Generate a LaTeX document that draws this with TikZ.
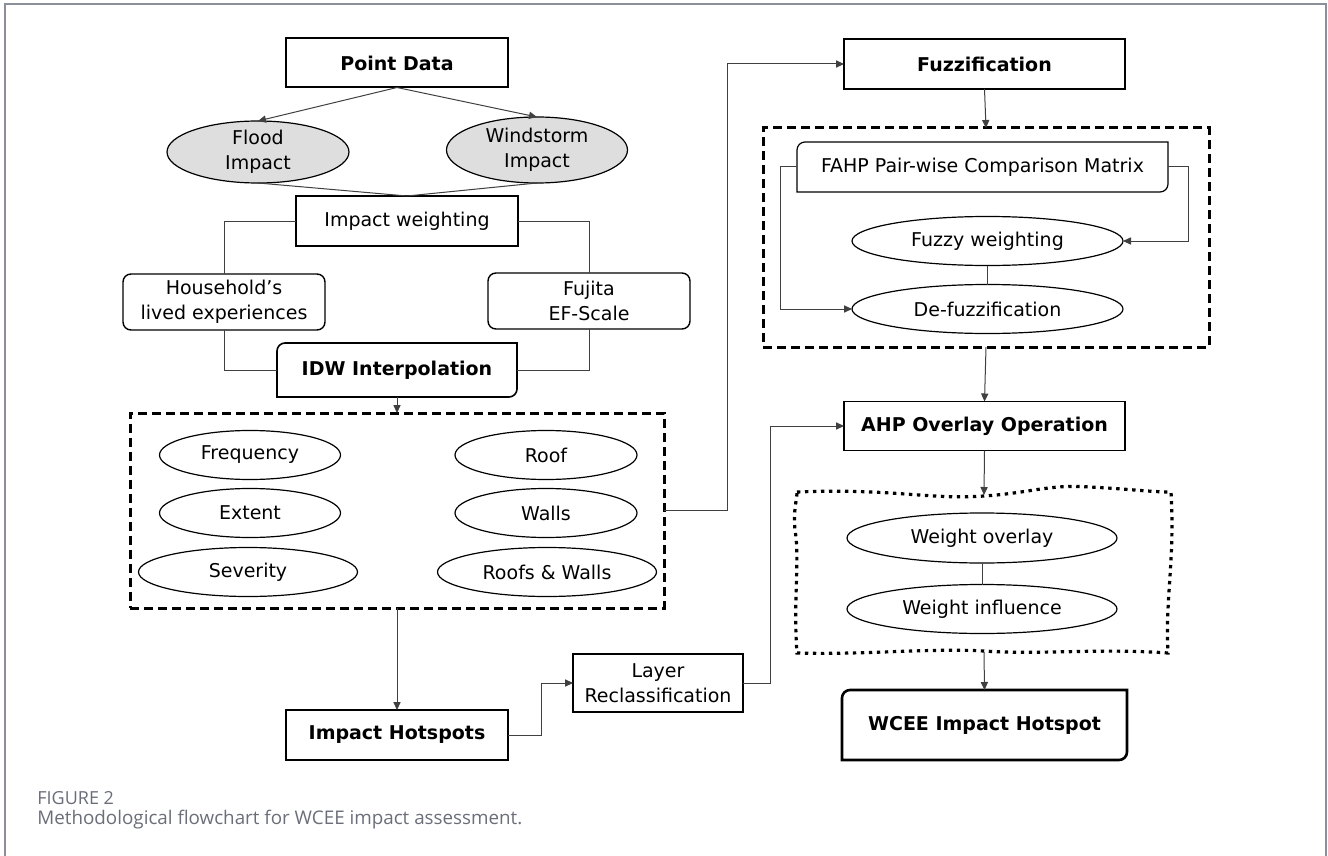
\documentclass[tikz,border=0pt]{standalone}
\usepackage{fontspec}
\setmainfont{DejaVu Sans}
\newfontfamily\capfont{Open Sans}
\usetikzlibrary{arrows.meta,shapes.geometric}
\definecolor{linegray}{rgb}{0.25,0.25,0.25}
\definecolor{framegray}{rgb}{0.55,0.56,0.60}
\definecolor{capgray}{rgb}{0.42,0.43,0.47}
\definecolor{ovalfill}{rgb}{0.87,0.87,0.87}
\newcommand{\diagoutline}[2][0.6pt]{%
  \draw[line width=#1] (#2.north east) -- ([xshift=4pt]#2.north west)
    arc[start angle=90,end angle=180,radius=4pt] -- (#2.south west)
    -- ([xshift=-4pt]#2.south east) arc[start angle=270,end angle=360,radius=4pt] -- cycle;}
\tikzset{
  txt/.style={font=\fontsize{9.5}{12.5}\selectfont},
  bold/.style={font=\fontsize{9.5}{12.5}\selectfont\bfseries},
  box/.style={txt,rectangle,draw,line width=0.7pt,inner sep=0pt,outer sep=0pt,align=center},
  roundbox/.style={box,rounded corners=4pt},
  diagbox/.style={txt,rectangle,inner sep=0pt,outer sep=0pt,align=center},
  oval/.style={txt,ellipse,draw,line width=0.6pt,inner sep=0pt,outer sep=0pt,align=center,minimum height=24.5pt},
  group/.style={rectangle,draw,line width=1.5pt,dash pattern=on 4.5pt off 2.5pt,inner sep=0pt,outer sep=0pt},
  link/.style={draw=linegray,line width=0.5pt},
  flow/.style={link,-{Triangle[length=4pt,width=3.6pt]}}
}

\begin{document}
\begin{tikzpicture}[x=0.5pt,y=-0.5pt]
\useasboundingbox (0,0) rectangle (1328,856);
\draw[framegray,line width=1pt] (4.5,856) -- (4.5,4.5) -- (1326,4.5) -- (1326,856);

\node[box,bold,line width=1pt,minimum width=111pt,minimum height=24.5pt] (pd) at (397,63) {Point Data};
\node[oval,fill=ovalfill,minimum width=91pt,minimum height=31pt] (flood) at (258,152) {Flood\\Impact};
\node[oval,fill=ovalfill,minimum width=90.5pt,minimum height=33pt] (wind) at (537,150) {Windstorm\\Impact};
\node[box,minimum width=111pt,minimum height=25pt] (iw) at (407,221) {Impact weighting};
\node[roundbox,minimum width=101pt,minimum height=28pt] (hh) at (224,302) {Household’s\\lived experiences};
\node[roundbox,minimum width=101pt,minimum height=28pt] (fuj) at (589,301) {Fujita\\EF-Scale};
\node[diagbox,bold,minimum width=120pt,minimum height=27pt] (idw) at (397,370) {IDW Interpolation};
\diagoutline[0.8pt]{idw}

\node[group,minimum width=267pt,minimum height=97.5pt] (attr) at (397,510.5) {};
\node[oval,minimum width=90.5pt] (freq) at (250,455) {Frequency};
\node[oval,minimum width=90.5pt] (ext) at (250,513) {Extent};
\node[oval,minimum width=109.5pt] (sev) at (248,572) {Severity};
\node[oval,minimum width=91pt] (roof) at (546,455) {Roof};
\node[oval,minimum width=91pt] (walls) at (546,513) {Walls};
\node[oval,minimum width=109.5pt] (rw) at (547,572) {Roofs \& Walls};

\node[box,bold,line width=1.3pt,minimum width=111pt,minimum height=25pt] (ih) at (397,735) {Impact Hotspots};
\node[box,minimum width=85pt,minimum height=29pt] (lr) at (658,683) {Layer\\Reclassification};

\node[box,bold,minimum width=140.5pt,minimum height=25pt] (fz) at (984.5,64) {Fuzzification};
\node[group,minimum width=223pt,minimum height=109.5pt] (fgrp) at (986,237.5) {};
\node[diagbox,minimum width=185.5pt,minimum height=25pt] (fahp) at (982.5,167) {FAHP Pair-wise Comparison Matrix};
\diagoutline{fahp}
\node[oval,minimum width=135.5pt] (fw) at (987.5,241) {Fuzzy weighting};
\node[oval,minimum width=135.5pt] (df) at (987.5,309) {De-fuzzification};

\node[box,bold,minimum width=140.5pt,minimum height=24.5pt] (ahp) at (984.5,426) {AHP Overlay Operation};
\draw[line width=1.6pt,dash pattern=on 1.7pt off 2.3pt]
  (797,492) .. controls (890,488) and (930,500) .. (984,496)
  .. controls (1030,493) and (1050,484) .. (1090,487)
  .. controls (1130,489) and (1150,492) .. (1171,492)
  .. controls (1175,560) and (1165,600) .. (1168,653)
  .. controls (1100,648) and (1040,655) .. (984,651)
  .. controls (930,648) and (860,655) .. (797,653)
  .. controls (793,600) and (800,560) .. (795,530)
  .. controls (793,510) and (797,500) .. (797,492);
\coordinate (wtop) at (984,495);
\coordinate (wbot) at (984,652);
\node[oval,minimum width=135pt,minimum height=25pt] (wo) at (982,538) {Weight overlay};
\node[oval,minimum width=135pt] (wi) at (982,609) {Weight influence};
\node[diagbox,bold,minimum width=142.5pt,minimum height=35pt] (wcee) at (984.5,725) {WCEE Impact Hotspot};
\diagoutline[1.3pt]{wcee}

\coordinate (riser) at (727,0);
\coordinate (kink) at (541,0);
\coordinate (kink2) at (770,0);
\coordinate (rside) at (1188,0);
\coordinate (lside) at (780,0);

\draw[flow] (pd.south) -- (flood.north);
\draw[flow] (pd.south) -- (wind.north);
\draw[link] (flood.south) -- (iw.north);
\draw[link] (wind.south) -- (iw.north);
\draw[link] (iw.west) -| (hh.north);
\draw[link] (iw.east) -| (fuj.north);
\draw[link] (hh.south) |- (idw.west);
\draw[link] (fuj.south) |- (idw.east);
\draw[flow] (idw.south) -- (attr.north);
\draw[flow] (attr.south) -- (ih.north);
\draw[flow] (ih.east) -- (ih.east -| kink) |- (lr.west);
\draw[flow] (lr.east) -- (lr.east -| kink2) |- (ahp.west);
\draw[flow] (attr.east) -- (attr.east -| riser) |- (fz.west);
\draw[flow] (fz.south) -- (fgrp.north);
\draw[flow] (fahp.east) -- (fahp.east -| rside) |- (fw.east);
\draw[flow] (fahp.west) -- (fahp.west -| lside) |- (df.west);
\draw[link] (fw.south) -- (df.north);
\draw[flow] (fgrp.south) -- (ahp.north);
\draw[flow] (ahp.south) -- (wtop);
\draw[link] (wo.south) -- (wi.north);
\draw[flow] (wbot) -- (wcee.north);

\node[anchor=base west,inner sep=0pt,text=capgray,font=\capfont\fontsize{9}{11}\selectfont] (fig) at (37,804) {FIGURE 2};
\node[anchor=base west,inner sep=0pt,text=capgray,font=\capfont\fontsize{9.4}{11}\selectfont] (cap) at (37,824) {Methodological flowchart for WCEE impact assessment.};
\end{tikzpicture}
\end{document}
